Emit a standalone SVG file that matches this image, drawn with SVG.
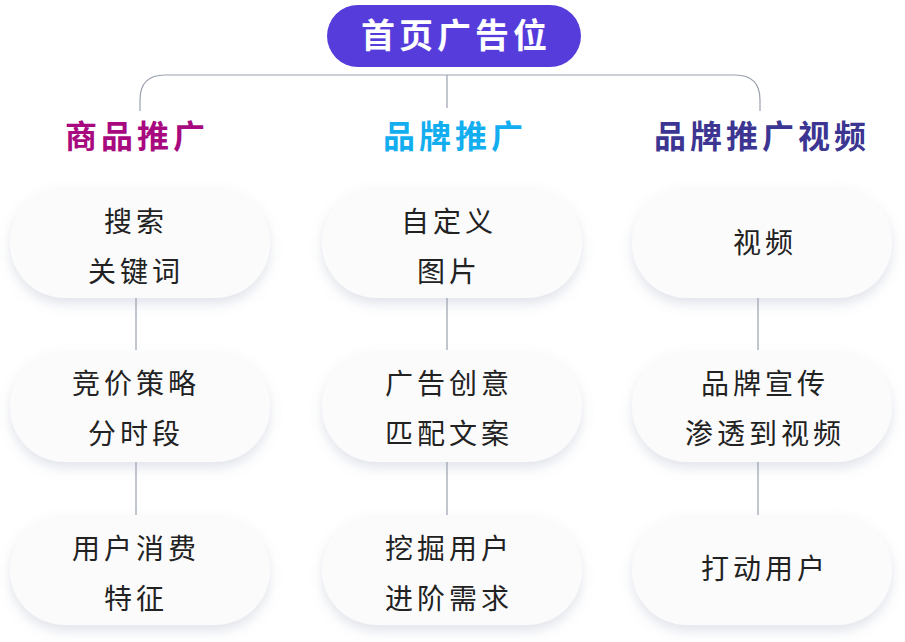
<svg xmlns="http://www.w3.org/2000/svg" width="905" height="642" viewBox="0 0 905 642">
<style>
.n{fill:#fbfbfc;filter:url(#sh)}
.t{font-family:"Noto Sans CJK SC",sans-serif;font-size:28px;fill:#222;text-anchor:middle;letter-spacing:4px}
.h{font-family:"Noto Sans CJK SC",sans-serif;font-size:32px;font-weight:bold;text-anchor:middle;letter-spacing:4px}
.c{fill:none;stroke:#9aa1ad;stroke-width:1.2}
</style>
<defs><filter id="sh" x="-20%" y="-30%" width="140%" height="160%"><feDropShadow dx="0" dy="6" stdDeviation="6" flood-color="#8a95b0" flood-opacity="0.25"/></filter></defs>
<rect width="905" height="642" fill="#fff"/>
<g id="connectors" class="c">
<path d="M140 111 V100 Q140 75 165 75 H735 Q760 75 760 100 V111"/>
<path d="M447 75 V108"/>
<path d="M136 298 V350 M136 462 V515 M447 298 V350 M447 462 V515 M758 298 V350 M758 462 V515"/>
</g>
<g id="root"><rect x="327" y="5" width="254" height="62" rx="31" fill="#563ddb"/><text x="456" y="48" class="h" fill="#fff" style="font-size:34px">首页广告位</text></g>
<g id="h1"><text x="137" y="148" class="h" fill="#a8097f">商品推广</text></g>
<g id="h2"><text x="455" y="148" class="h" fill="#13aef0">品牌推广</text></g>
<g id="h3"><text x="762" y="148" class="h" fill="#3c3592">品牌推广视频</text></g>
<g id="n11"><rect class="n" x="10" y="187" width="260" height="111" rx="55"/><text class="t" x="136" y="232">搜索</text><text class="t" x="136" y="282">关键词</text></g>
<g id="n12"><rect class="n" x="10" y="351" width="260" height="111" rx="55"/><text class="t" x="136" y="394">竞价策略</text><text class="t" x="136" y="444">分时段</text></g>
<g id="n13"><rect class="n" x="10" y="515" width="260" height="110" rx="55"/><text class="t" x="136" y="559">用户消费</text><text class="t" x="136" y="609">特征</text></g>
<g id="n21"><rect class="n" x="322" y="187" width="260" height="111" rx="55"/><text class="t" x="449" y="232">自定义</text><text class="t" x="449" y="282">图片</text></g>
<g id="n22"><rect class="n" x="322" y="351" width="260" height="111" rx="55"/><text class="t" x="449" y="394">广告创意</text><text class="t" x="449" y="444">匹配文案</text></g>
<g id="n23"><rect class="n" x="322" y="515" width="260" height="110" rx="55"/><text class="t" x="449" y="559">挖掘用户</text><text class="t" x="449" y="609">进阶需求</text></g>
<g id="n31"><rect class="n" x="632" y="187" width="260" height="111" rx="55"/><text class="t" x="765" y="253">视频</text></g>
<g id="n32"><rect class="n" x="632" y="351" width="260" height="111" rx="55"/><text class="t" x="765" y="394">品牌宣传</text><text class="t" x="765" y="444">渗透到视频</text></g>
<g id="n33"><rect class="n" x="632" y="515" width="260" height="110" rx="55"/><text class="t" x="765" y="579">打动用户</text></g>
</svg>
